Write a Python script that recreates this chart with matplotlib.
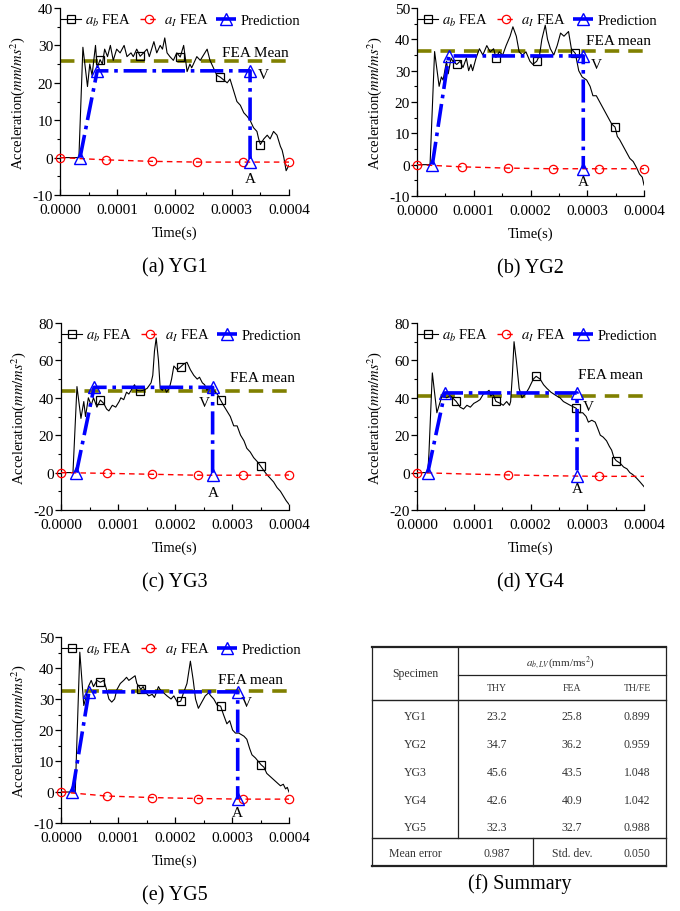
import numpy as np
import matplotlib
matplotlib.use('Agg')
import matplotlib.pyplot as plt
from matplotlib.lines import Line2D
from matplotlib.ticker import MultipleLocator, FormatStrFormatter

plt.rcParams['font.family'] = ['Liberation Serif', 'DejaVu Serif']
plt.rcParams['mathtext.fontset'] = 'stix'
plt.rcParams['axes.unicode_minus'] = False

# ---- data (time in units of 1e-4 s, acceleration in mm/ms^2) ----
specimens = ['YG1', 'YG2', 'YG3', 'YG4', 'YG5']
thy = [23.2, 34.7, 45.6, 42.6, 32.3]
fea = [25.8, 36.2, 43.5, 40.9, 32.7]
ratio = [0.899, 0.959, 1.048, 1.042, 0.988]
mean_error = 0.987
std_dev = 0.050

t_ab1 = [0, 0.33, 0.40, 0.48, 0.52, 0.56, 0.62, 0.65, 0.70, 0.74, 0.78, 0.83, 0.88, 0.93, 0.99, 1.05, 1.12, 1.17,
         1.24, 1.28, 1.34, 1.40, 1.46, 1.52, 1.56, 1.64, 1.69, 1.75, 1.79, 1.83, 1.87, 1.92, 1.98, 2.04, 2.10, 2.16,
         2.22, 2.27, 2.30, 2.39, 2.45, 2.57, 2.62, 2.68, 2.74, 2.80, 2.92, 2.97, 3.03, 3.09, 3.15, 3.21, 3.27, 3.32,
         3.38, 3.44, 3.47, 3.50, 3.56, 3.62, 3.67, 3.73, 3.79, 3.85, 3.88, 3.91, 3.95, 4.0]
a_ab1 = [0, 0, 29.5, 19, 25, 22, 30, 24, 26.2, 25, 29, 27, 30, 26, 29, 28, 30, 27,
         28, 27, 29, 27.1, 28, 29, 27, 31, 28, 30, 29, 32, 28, 27, 26, 28, 26.9, 30,
         23, 25, 24, 27, 26, 29, 26, 24, 22, 21.5, 20, 21, 18, 15, 14, 12, 11, 10,
         8, 7, 5, 3.5, 5, 6, 5, 7, 6, 3, 2, 0, -3.5, -2]

t_ab2 = [0, 0.23, 0.31, 0.39, 0.43, 0.46, 0.52, 0.55, 0.60, 0.63, 0.70, 0.76, 0.81, 0.87, 0.91, 0.95, 0.98, 1.04,
         1.10, 1.16, 1.23, 1.29, 1.35, 1.39, 1.45, 1.51, 1.57, 1.64, 1.69, 1.75, 1.80, 1.86, 1.92, 1.99, 2.04, 2.11,
         2.16, 2.20, 2.26, 2.30, 2.35, 2.41, 2.47, 2.53, 2.59, 2.67, 2.72, 2.79, 2.85, 2.91, 2.99, 3.05, 3.10, 3.16,
         3.22, 3.28, 3.37, 3.43, 3.49, 3.53, 3.57, 3.66, 3.75, 3.81, 3.87, 3.92, 3.97, 4.0]
a_ab2 = [0, 0, 36.1, 25, 28, 27, 33, 29, 34, 33, 32, 33, 31, 34, 30, 32, 30, 34,
         37, 35, 38, 36, 37, 34.2, 36, 35, 38, 41, 44, 41, 36, 35, 36, 33, 32, 33,
         35, 40, 44.5, 40, 37, 35, 38, 42, 41, 42.5, 37, 35.5, 30, 28, 27, 25, 22, 22,
         20, 18, 15, 13, 12, 9, 8, 5, 2, 1, -1, -3, -4, -6.5]

t_ab3 = [0, 0.21, 0.28, 0.35, 0.40, 0.43, 0.48, 0.53, 0.57, 0.63, 0.69, 0.75, 0.80, 0.84, 0.90, 0.96, 1.02, 1.05,
         1.10, 1.15, 1.19, 1.25, 1.29, 1.33, 1.39, 1.44, 1.51, 1.58, 1.61, 1.64, 1.67, 1.71, 1.74, 1.78, 1.81, 1.85,
         1.90, 1.94, 1.98, 2.04, 2.10, 2.15, 2.21, 2.27, 2.33, 2.39, 2.43, 2.48, 2.52, 2.56, 2.63, 2.68, 2.74, 2.80,
         2.85, 2.91, 2.97, 3.03, 3.09, 3.15, 3.21, 3.26, 3.32, 3.38, 3.44, 3.50, 3.56, 3.61, 3.67, 3.73, 3.79, 3.85,
         3.91, 3.95, 4.0]
a_ab3 = [0, 0, 46, 29, 38, 30, 40, 36, 40, 35, 38.8, 37, 34, 33, 36, 35, 38, 40,
         39, 43, 42, 45, 47, 44, 43.7, 44, 45, 48, 52, 65, 72, 60, 45, 44, 46, 43,
         45, 50, 57, 55, 56.6, 58, 59, 55, 52, 50, 51, 48, 47, 44, 46, 44, 42, 38.8,
         36, 33, 30, 25, 25, 20, 17, 13, 11, 8, 6, 3.6, 1, -1, -3, -5, -8, -10,
         -13, -15, -17]

t_ab4 = [0, 0.19, 0.21, 0.27, 0.35, 0.38, 0.44, 0.52, 0.59, 0.69, 0.76, 0.82, 0.88, 0.94, 1.00, 1.06, 1.11, 1.17,
         1.23, 1.27, 1.30, 1.34, 1.39, 1.47, 1.52, 1.58, 1.63, 1.65, 1.68, 1.71, 1.75, 1.80, 1.85, 1.91, 1.97, 2.05,
         2.10, 2.17, 2.23, 2.29, 2.36, 2.41, 2.46, 2.52, 2.58, 2.70, 2.80, 2.86, 2.92, 2.98, 3.02, 3.08, 3.14, 3.18,
         3.23, 3.28, 3.34, 3.39, 3.43, 3.47, 3.51, 3.58, 3.64, 3.70, 3.75, 3.80, 3.87, 3.93, 4.0]
a_ab4 = [0, 0, 10, 53.3, 32, 35, 41, 40, 41, 38.1, 35, 34, 36, 35, 37, 38, 39, 42,
         43, 44, 41, 42, 38.1, 37, 36, 38, 36, 38, 52, 70, 60, 45, 40, 42, 45, 50,
         51.5, 50, 47, 45, 43, 42, 41, 40, 38, 36, 34.5, 32, 32, 30, 27, 28, 27, 24,
         20, 19, 17, 14, 12, 8, 6.4, 5, 3, 2, 0, -1, -3, -5, -7.5]

t_ab5 = [0, 0.25, 0.33, 0.40, 0.43, 0.48, 0.53, 0.57, 0.63, 0.69, 0.75, 0.80, 0.84, 0.89, 0.94, 0.98, 1.04, 1.10,
         1.15, 1.19, 1.30, 1.33, 1.37, 1.40, 1.44, 1.49, 1.54, 1.60, 1.64, 1.71, 1.74, 1.80, 1.86, 1.93, 1.98, 2.04,
         2.10, 2.15, 2.21, 2.27, 2.32, 2.36, 2.41, 2.47, 2.53, 2.59, 2.63, 2.68, 2.74, 2.80, 2.85, 2.91, 2.96, 3.01,
         3.06, 3.12, 3.21, 3.26, 3.31, 3.35, 3.41, 3.51, 3.56, 3.61, 3.67, 3.73, 3.79, 3.85, 3.90, 3.94, 3.97, 4.0]
a_ab5 = [0, 0, 45.1, 27.9, 30, 34, 36, 34, 36, 35.4, 36, 33, 30, 29, 30, 33, 35, 36,
         37, 36, 37.5, 35, 34, 33.1, 34, 32, 31, 31.5, 30.5, 34, 33, 32, 31, 30, 31, 29,
         29.3, 32, 35, 42.2, 36, 30, 27, 29, 31, 32, 31, 30, 28, 27.7, 25, 22, 23, 20,
         19, 19, 18, 17, 14, 12, 11, 8.8, 8, 6, 5, 4, 3, 2, 2.5, 1, 1.5, 0]

t_ai = [0, 0.8, 1.6, 2.4, 3.2, 4.0]
a_ai1 = [0, -0.6, -1.0, -1.2, -1.2, -1.2]
a_ai2 = [0, -0.7, -1.1, -1.3, -1.3, -1.3]
a_ai3 = [0, -0.4, -0.9, -1.4, -1.4, -1.3]
a_ai4 = [0, -0.7, -1.25, -1.7, -2.0, -2.0]
a_ai5 = [0, -1.3, -1.8, -2.1, -2.3, -2.3]

t_pred1 = [0.35, 0.65, 3.32, 3.32]
t_pred2 = [0.27, 0.56, 2.93, 2.93]
t_pred3 = [0.27, 0.58, 2.66, 2.66]
t_pred4 = [0.19, 0.49, 2.82, 2.82]
t_pred5 = [0.20, 0.49, 3.10, 3.10]

t_ab = [t_ab1, t_ab2, t_ab3, t_ab4, t_ab5]
a_ab = [a_ab1, a_ab2, a_ab3, a_ab4, a_ab5]
a_ai = [a_ai1, a_ai2, a_ai3, a_ai4, a_ai5]
t_pred = [t_pred1, t_pred2, t_pred3, t_pred4, t_pred5]
a_pred = [[0, v, v, ai[-1]] for v, ai in zip(thy, a_ai)]
ab_marker_times = [0.7, 1.4, 2.1, 2.8, 3.5]

# ---- layout (pixel boxes: left, top, right, bottom) ----
W, H = 680, 912
boxes = [(60, 9, 289, 196), (417, 9, 644, 197), (61, 324, 289, 511),
         (417, 324, 644, 511), (61, 638, 289, 824)]
ylims = [(-10, 40), (-10, 50), (-20, 80), (-20, 80), (-10, 50)]
ysteps = [10, 10, 20, 20, 10]
mean_labels = ['FEA Mean', 'FEA mean', 'FEA mean', 'FEA mean', 'FEA mean']
mean_label_pos = [(4.0, 28.2), (4.12, 39.6), (4.1, 50.7), (3.99, 52.6), (3.9, 36.3)]
v_pos = [(3.56, 22.1), (3.16, 31.9), (2.51, 37.5), (3.02, 35.4), (3.26, 28.8)]
a_pos = [(3.33, -5.6), (2.93, -5.5), (2.67, -10.6), (2.82, -8.6), (3.10, -6.6)]
captions = ['(a) YG1', '(b) YG2', '(c) YG3', '(d) YG4', '(e) YG5']

BLUE, RED, OLIVE = '#0000ff', '#ff0000', '#808000'
ab_style = dict(color='black', lw=0.8, marker='s', ms=5.5, mfc='none', mec='black', mew=0.9)
ai_style = dict(color=RED, lw=1, ls=(0, (4, 3)), marker='o', ms=6, mfc='none', mec=RED, mew=0.9)
pr_style = dict(color=BLUE, lw=2.6, ls='-.', marker='^', ms=9, mfc='none', mec=BLUE, mew=1.0)

fig = plt.figure(figsize=(W / 100, H / 100), dpi=100)


def add_box(l, t, r, b):
    return fig.add_axes([l / W, 1 - b / H, (r - l) / W, (b - t) / H])


handles = [Line2D([], [], **ab_style), Line2D([], [], **ai_style), Line2D([], [], **pr_style)]
labels = [r'$a_b$ FEA', r'$a_I$ FEA', 'Prediction']

for i in range(5):
    l, tp, r, b = boxes[i]
    ax = add_box(l, tp, r, b)
    t = np.array(t_ab[i])
    idx = [int(np.argmin(np.abs(t - m))) for m in ab_marker_times]
    ax.plot(t * 1e-4, a_ab[i], markevery=idx, zorder=3, **ab_style)
    ai_every = [0, 2, 4] if i == 3 else None
    ax.plot(np.array(t_ai) * 1e-4, a_ai[i], markevery=ai_every, zorder=4, clip_on=False, **ai_style)
    ax.axhline(fea[i], color=OLIVE, lw=2.6, ls=(0, (4, 2.5)), zorder=2)
    ax.plot(np.array(t_pred[i]) * 1e-4, a_pred[i], zorder=5, **pr_style)

    ax.text(mean_label_pos[i][0] * 1e-4, mean_label_pos[i][1], mean_labels[i], ha='right',
            va='center', fontsize=11, clip_on=False)
    ax.text(v_pos[i][0] * 1e-4, v_pos[i][1], 'V', ha='center', va='center', fontsize=11)
    ax.text(a_pos[i][0] * 1e-4, a_pos[i][1], 'A', ha='center', va='center', fontsize=11)

    ax.set_xlim(0, 0.0004)
    ax.set_ylim(*ylims[i])
    ax.xaxis.set_major_locator(MultipleLocator(0.0001))
    ax.xaxis.set_minor_locator(MultipleLocator(0.00005))
    ax.xaxis.set_major_formatter(FormatStrFormatter('%.4f'))
    ax.yaxis.set_major_locator(MultipleLocator(ysteps[i]))
    ax.yaxis.set_minor_locator(MultipleLocator(ysteps[i] / 2))
    ax.tick_params(axis='x', which='both', direction='in', labelsize=11, pad=6)
    ax.tick_params(axis='y', which='both', direction='out', labelsize=11, pad=1)
    ax.tick_params(which='major', length=4, width=0.9)
    ax.tick_params(which='minor', length=2.5, width=0.8)
    for s in ['top', 'right']:
        ax.spines[s].set_visible(False)
    for s in ['left', 'bottom']:
        ax.spines[s].set_linewidth(0.9)

    ax.set_xlabel('Time(s)', fontsize=10.5)
    ax.xaxis.set_label_coords(0.5, -37 / (b - tp))
    ax.xaxis.label.set_va('center')
    ax.set_ylabel(r'Acceleration($\mathit{mm/ms}^2$)', fontsize=10.5)
    ax.yaxis.set_label_coords(-33 / (r - l), 0.5)
    ax.legend(handles, labels, loc='upper left', bbox_to_anchor=(0.005, 0.978), ncol=3, frameon=False,
              fontsize=10.5, handlelength=1.35, handletextpad=0.3, columnspacing=0.55,
              borderaxespad=0, borderpad=0)

    fig.text(((l + r) / 2) / W, 1 - (b + 72) / H, captions[i], ha='center', va='center', fontsize=14.5)

# ---- summary table (f) ----
tl, tt, tr, tb = 372, 648, 666, 867
axt = add_box(tl, tt, tr, tb)
axt.set_xlim(tl, tr)
axt.set_ylim(tb, tt)
axt.axis('off')
c_spec, c_div1, c_div2 = 415, 458, 533
c_cols = [497, 572, 637]
row_ys = [717, 745, 773, 801, 828]
line_kw = dict(color='#222222', clip_on=False)

axt.plot([tl, tr], [tt, tt], lw=1.6, **line_kw)
axt.plot([c_div1, tr], [676, 676], lw=0.9, **line_kw)
axt.plot([tl, tr], [701, 701], lw=1.0, **line_kw)
axt.plot([tl, tr], [839, 839], lw=1.0, **line_kw)
axt.plot([tl, tr], [tb, tb], lw=1.6, **line_kw)
axt.plot([tl, tl], [tt, tb], lw=0.9, **line_kw)
axt.plot([tr, tr], [tt, tb], lw=0.9, **line_kw)
axt.plot([c_div1, c_div1], [tt, 839], lw=0.9, **line_kw)
axt.plot([c_div2, c_div2], [839, tb], lw=0.9, **line_kw)

tcol = '#333333'
axt.text(c_spec, 674, 'Specimen', ha='center', va='center', fontsize=8.5, color=tcol)
axt.text(560, 663, r'$a_{b,LV}$(mm/ms$^2$)', ha='center', va='center', fontsize=8, color=tcol)
for c, h in zip(c_cols, ['THY', 'FEA', 'TH/FE']):
    axt.text(c, 689, h, ha='center', va='center', fontsize=7, color=tcol)
for y, sp, a, f, rt in zip(row_ys, specimens, thy, fea, ratio):
    axt.text(c_spec, y, sp, ha='center', va='center', fontsize=8.5, color=tcol)
    axt.text(c_cols[0], y, f'{a:.1f}', ha='center', va='center', fontsize=8.5, color=tcol)
    axt.text(c_cols[1], y, f'{f:.1f}', ha='center', va='center', fontsize=8.5, color=tcol)
    axt.text(c_cols[2], y, f'{rt:.3f}', ha='center', va='center', fontsize=8.5, color=tcol)
axt.text(c_spec, 854, 'Mean error', ha='center', va='center', fontsize=8.5, color=tcol)
axt.text(c_cols[0], 854, f'{mean_error:.3f}', ha='center', va='center', fontsize=8.5, color=tcol)
axt.text(c_cols[1], 854, 'Std. dev.', ha='center', va='center', fontsize=8.5, color=tcol)
axt.text(c_cols[2], 854, f'{std_dev:.3f}', ha='center', va='center', fontsize=8.5, color=tcol)

fig.text(520 / W, 1 - 884 / H, '(f) Summary', ha='center', va='center', fontsize=14.5)

fig.savefig('out.png', dpi=100)
